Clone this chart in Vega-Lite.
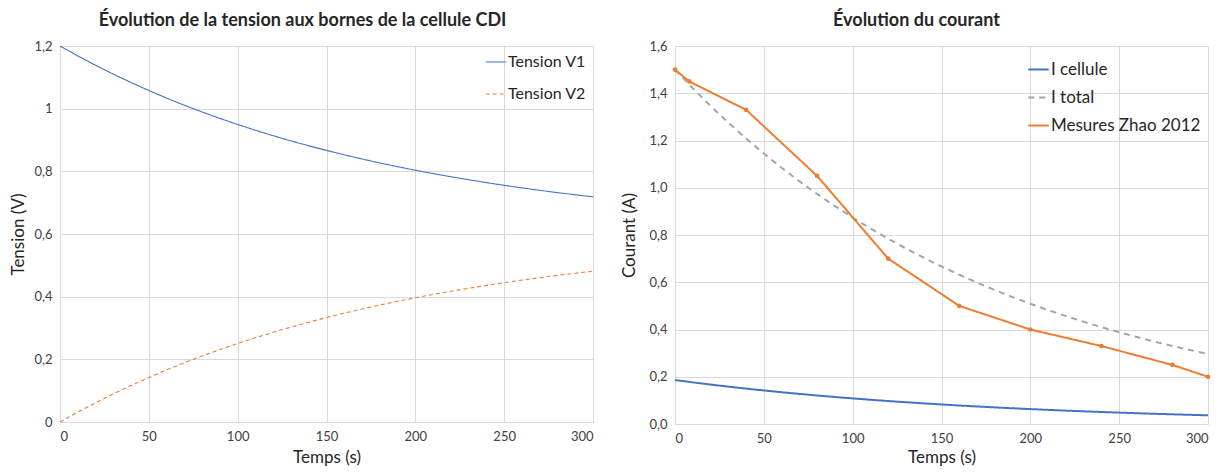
{
  "$schema": "https://vega.github.io/schema/vega-lite/v6.json",
  "background": "white",
  "padding": {"left": 9, "top": 12, "right": 10, "bottom": 2},
  "spacing": 24,
  "config": {
    "font": "Lato",
    "view": {"stroke": null},
    "axis": {
      "gridColor": "#d9d9d9", "gridWidth": 1, "domain": false, "ticks": false,
      "labelColor": "#404040", "labelFontSize": 13, "titleColor": "#262626",
      "titleFontSize": 17, "titleFontWeight": "normal", "labelPadding": 8
    },
    "title": {"fontSize": 18, "fontWeight": "bold", "color": "#262626", "frame": "bounds", "anchor": "middle", "offset": 10},
    "legend": {"labelFontSize": 16, "labelColor": "#262626", "symbolType": "stroke", "labelOffset": 1, "title": null}
  },
  "datasets": {
    "tension": [
      {"t":0,"serie":"Tension V1","v":1.2},{"t":10,"serie":"Tension V1","v":1.1684},{"t":20,"serie":"Tension V1","v":1.1385},{"t":30,"serie":"Tension V1","v":1.1102},{"t":40,"serie":"Tension V1","v":1.0834},{"t":50,"serie":"Tension V1","v":1.0579},{"t":60,"serie":"Tension V1","v":1.0338},{"t":70,"serie":"Tension V1","v":1.011},{"t":80,"serie":"Tension V1","v":0.9894},{"t":90,"serie":"Tension V1","v":0.9689},{"t":100,"serie":"Tension V1","v":0.9495},{"t":110,"serie":"Tension V1","v":0.9311},{"t":120,"serie":"Tension V1","v":0.9137},{"t":130,"serie":"Tension V1","v":0.8972},{"t":140,"serie":"Tension V1","v":0.8815},{"t":150,"serie":"Tension V1","v":0.8667},{"t":160,"serie":"Tension V1","v":0.8527},{"t":170,"serie":"Tension V1","v":0.8394},{"t":180,"serie":"Tension V1","v":0.8268},{"t":190,"serie":"Tension V1","v":0.8149},{"t":200,"serie":"Tension V1","v":0.8035},{"t":210,"serie":"Tension V1","v":0.7928},{"t":220,"serie":"Tension V1","v":0.7827},{"t":230,"serie":"Tension V1","v":0.7731},{"t":240,"serie":"Tension V1","v":0.764},{"t":250,"serie":"Tension V1","v":0.7553},{"t":260,"serie":"Tension V1","v":0.7472},{"t":270,"serie":"Tension V1","v":0.7394},{"t":280,"serie":"Tension V1","v":0.7321},{"t":290,"serie":"Tension V1","v":0.7252},{"t":300,"serie":"Tension V1","v":0.7186},
      {"t":0,"serie":"Tension V2","v":0},{"t":10,"serie":"Tension V2","v":0.0316},{"t":20,"serie":"Tension V2","v":0.0615},{"t":30,"serie":"Tension V2","v":0.0898},{"t":40,"serie":"Tension V2","v":0.1166},{"t":50,"serie":"Tension V2","v":0.1421},{"t":60,"serie":"Tension V2","v":0.1662},{"t":70,"serie":"Tension V2","v":0.189},{"t":80,"serie":"Tension V2","v":0.2106},{"t":90,"serie":"Tension V2","v":0.2311},{"t":100,"serie":"Tension V2","v":0.2505},{"t":110,"serie":"Tension V2","v":0.2689},{"t":120,"serie":"Tension V2","v":0.2863},{"t":130,"serie":"Tension V2","v":0.3028},{"t":140,"serie":"Tension V2","v":0.3185},{"t":150,"serie":"Tension V2","v":0.3333},{"t":160,"serie":"Tension V2","v":0.3473},{"t":170,"serie":"Tension V2","v":0.3606},{"t":180,"serie":"Tension V2","v":0.3732},{"t":190,"serie":"Tension V2","v":0.3851},{"t":200,"serie":"Tension V2","v":0.3965},{"t":210,"serie":"Tension V2","v":0.4072},{"t":220,"serie":"Tension V2","v":0.4173},{"t":230,"serie":"Tension V2","v":0.4269},{"t":240,"serie":"Tension V2","v":0.436},{"t":250,"serie":"Tension V2","v":0.4447},{"t":260,"serie":"Tension V2","v":0.4528},{"t":270,"serie":"Tension V2","v":0.4606},{"t":280,"serie":"Tension V2","v":0.4679},{"t":290,"serie":"Tension V2","v":0.4748},{"t":300,"serie":"Tension V2","v":0.4814}
    ],
    "courant": [
      {"t":0,"serie":"I cellule","i":0.186},{"t":10,"serie":"I cellule","i":0.1762},{"t":20,"serie":"I cellule","i":0.1669},{"t":30,"serie":"I cellule","i":0.1582},{"t":40,"serie":"I cellule","i":0.1498},{"t":50,"serie":"I cellule","i":0.142},{"t":60,"serie":"I cellule","i":0.1345},{"t":70,"serie":"I cellule","i":0.1274},{"t":80,"serie":"I cellule","i":0.1207},{"t":90,"serie":"I cellule","i":0.1144},{"t":100,"serie":"I cellule","i":0.1083},{"t":110,"serie":"I cellule","i":0.1026},{"t":120,"serie":"I cellule","i":0.0972},{"t":130,"serie":"I cellule","i":0.0921},{"t":140,"serie":"I cellule","i":0.0873},{"t":150,"serie":"I cellule","i":0.0827},{"t":160,"serie":"I cellule","i":0.0783},{"t":170,"serie":"I cellule","i":0.0742},{"t":180,"serie":"I cellule","i":0.0703},{"t":190,"serie":"I cellule","i":0.0666},{"t":200,"serie":"I cellule","i":0.0631},{"t":210,"serie":"I cellule","i":0.0598},{"t":220,"serie":"I cellule","i":0.0566},{"t":230,"serie":"I cellule","i":0.0537},{"t":240,"serie":"I cellule","i":0.0508},{"t":250,"serie":"I cellule","i":0.0482},{"t":260,"serie":"I cellule","i":0.0456},{"t":270,"serie":"I cellule","i":0.0432},{"t":280,"serie":"I cellule","i":0.041},{"t":290,"serie":"I cellule","i":0.0388},{"t":300,"serie":"I cellule","i":0.0368},
      {"t":0,"serie":"I total","i":1.5},{"t":10,"serie":"I total","i":1.4211},{"t":20,"serie":"I total","i":1.3463},{"t":30,"serie":"I total","i":1.2755},{"t":40,"serie":"I total","i":1.2084},{"t":50,"serie":"I total","i":1.1448},{"t":60,"serie":"I total","i":1.0845},{"t":70,"serie":"I total","i":1.0275},{"t":80,"serie":"I total","i":0.9735},{"t":90,"serie":"I total","i":0.9222},{"t":100,"serie":"I total","i":0.8738},{"t":110,"serie":"I total","i":0.8277},{"t":120,"serie":"I total","i":0.7842},{"t":130,"serie":"I total","i":0.743},{"t":140,"serie":"I total","i":0.7038},{"t":150,"serie":"I total","i":0.6668},{"t":160,"serie":"I total","i":0.6317},{"t":170,"serie":"I total","i":0.5985},{"t":180,"serie":"I total","i":0.567},{"t":190,"serie":"I total","i":0.5372},{"t":200,"serie":"I total","i":0.5088},{"t":210,"serie":"I total","i":0.4821},{"t":220,"serie":"I total","i":0.4568},{"t":230,"serie":"I total","i":0.4328},{"t":240,"serie":"I total","i":0.41},{"t":250,"serie":"I total","i":0.3884},{"t":260,"serie":"I total","i":0.368},{"t":270,"serie":"I total","i":0.3486},{"t":280,"serie":"I total","i":0.3303},{"t":290,"serie":"I total","i":0.3129},{"t":300,"serie":"I total","i":0.2964},
      {"t":0,"serie":"Mesures Zhao 2012","i":1.5},{"t":8,"serie":"Mesures Zhao 2012","i":1.45},{"t":40,"serie":"Mesures Zhao 2012","i":1.33},{"t":80,"serie":"Mesures Zhao 2012","i":1.05},{"t":120,"serie":"Mesures Zhao 2012","i":0.7},{"t":160,"serie":"Mesures Zhao 2012","i":0.5},{"t":200,"serie":"Mesures Zhao 2012","i":0.4},{"t":240,"serie":"Mesures Zhao 2012","i":0.33},{"t":280,"serie":"Mesures Zhao 2012","i":0.25},{"t":300,"serie":"Mesures Zhao 2012","i":0.2}
    ]
  },
  "resolve": {"scale": {"color": "independent", "strokeDash": "independent"}, "legend": {"color": "independent", "strokeDash": "independent"}},
  "hconcat": [
    {
      "title": "Évolution de la tension aux bornes de la cellule CDI",
      "width": 533, "height": 376,
      "data": {"name": "tension"},
      "mark": {"type": "line", "strokeWidth": 1.1},
      "encoding": {
        "x": {"field": "t", "type": "quantitative", "title": "Temps (s)", "scale": {"domain": [0, 300], "nice": false}, "axis": {"values": [0,50,100,150,200,250,300], "titlePadding": 6}},
        "y": {"field": "v", "type": "quantitative", "title": "Tension (V)", "scale": {"domain": [0, 1.2], "nice": false}, "axis": {"values": [0,0.2,0.4,0.6,0.8,1,1.2], "labelExpr": "replace(format(datum.value, '~f'), '.', ',')", "titlePadding": 6}},
        "color": {"field": "serie", "type": "nominal", "scale": {"domain": ["Tension V1","Tension V2"], "range": ["#4472C4","#ED7D31"]}, "legend": {"orient": "none", "legendX": 425, "legendY": 5, "symbolSize": 420, "symbolStrokeWidth": 1.2, "rowPadding": 13, "labelFontSize": 16}},
        "strokeDash": {"field": "serie", "type": "nominal", "scale": {"domain": ["Tension V1","Tension V2"], "range": [[1,0],[4,3]]}, "legend": null}
      }
    },
    {
      "title": "Évolution du courant",
      "width": 533, "height": 378,
      "data": {"name": "courant"},
      "layer": [
        {
          "mark": {"type": "line", "strokeWidth": 2},
          "encoding": {
            "x": {"field": "t", "type": "quantitative", "title": "Temps (s)", "scale": {"domain": [0, 300], "nice": false}, "axis": {"values": [0,50,100,150,200,250,300], "titlePadding": 4}},
            "y": {"field": "i", "type": "quantitative", "title": "Courant (A)", "scale": {"domain": [0, 1.6], "nice": false}, "axis": {"values": [0,0.2,0.4,0.6,0.8,1,1.2,1.4,1.6], "labelExpr": "replace(format(datum.value, '.1f'), '.', ',')", "titlePadding": 10}},
            "color": {"field": "serie", "type": "nominal", "scale": {"domain": ["I cellule","I total","Mesures Zhao 2012"], "range": ["#4472C4","#A5A5A5","#ED7D31"]}, "legend": {"orient": "none", "legendX": 352, "legendY": 12, "symbolSize": 420, "symbolStrokeWidth": 2, "rowPadding": 8, "labelFontSize": 17}},
            "strokeDash": {"field": "serie", "type": "nominal", "scale": {"domain": ["I cellule","I total","Mesures Zhao 2012"], "range": [[1,0],[6,5],[1,0]]}, "legend": null}
          }
        },
        {
          "transform": [{"filter": "datum.serie === 'Mesures Zhao 2012'"}],
          "mark": {"type": "point", "filled": true, "size": 22, "opacity": 1},
          "encoding": {
            "x": {"field": "t", "type": "quantitative"},
            "y": {"field": "i", "type": "quantitative"},
            "color": {"value": "#ED7D31"}
          }
        }
      ]
    }
  ]
}
